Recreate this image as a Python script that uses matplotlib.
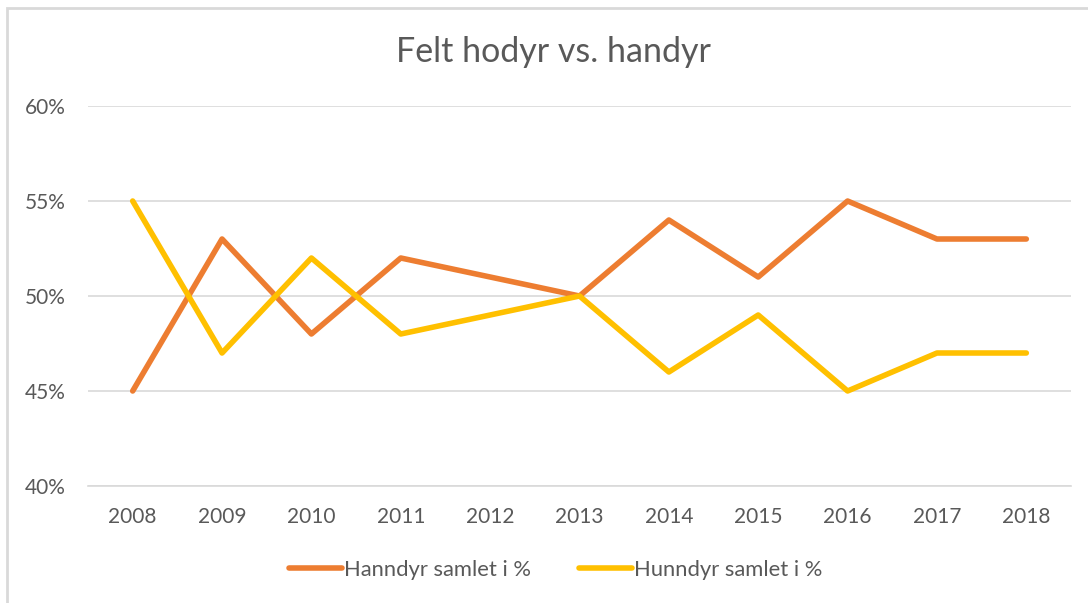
import matplotlib.pyplot as plt
from matplotlib.patches import Rectangle
from matplotlib.ticker import FuncFormatter

years = ['2008', '2009', '2010', '2011', '2012', '2013', '2014', '2015', '2016', '2017', '2018']
hanndyr = [45, 53, 48, 52, 51, 50, 54, 51, 55, 53, 53]
hunndyr = [55, 47, 52, 48, 49, 50, 46, 49, 45, 47, 47]
y_ticks = [40, 45, 50, 55, 60]

W, H = 1088, 603
plt.rcParams['font.family'] = ['Lato', 'DejaVu Sans']
fig = plt.figure(figsize=(W / 100, H / 100), dpi=100)

# chart border (cut off at right and bottom like the screenshot)
fig.patches.append(Rectangle((7 / W, -0.05), 1.1, 1 - 8 / H + 0.05, transform=fig.transFigure,
                             fill=False, edgecolor='#D9D9D9', linewidth=2))

ax = fig.add_axes([88 / W, (H - 486) / H, (1071 - 88) / W, (486 - 106) / H])
x = range(len(years))
ax.plot(x, hanndyr, color='#ED7D31', linewidth=4, label='Hanndyr samlet i %', solid_capstyle='round')
ax.plot(x, hunndyr, color='#FFC000', linewidth=4, label='Hunndyr samlet i %', solid_capstyle='round')

ax.set_xlim(-0.5, len(years) - 0.5)
ax.set_ylim(40, 60)
ax.set_yticks(y_ticks)
ax.yaxis.set_major_formatter(FuncFormatter(lambda v, p: f'{v:.0f}%'))
ax.set_xticks(list(x))
ax.set_xticklabels(years)
ax.grid(axis='y', color='#D9D9D9', linewidth=1.2)
ax.set_axisbelow(True)
for s in ['top', 'right', 'left']:
    ax.spines[s].set_visible(False)
ax.spines['bottom'].set_color('#D9D9D9')
ax.spines['bottom'].set_linewidth(1.2)
ax.tick_params(axis='both', length=0, labelsize=15, colors='#595959')
ax.tick_params(axis='y', pad=16)
ax.tick_params(axis='x', pad=15)

fig.text(553 / W, 1 - 52 / H, 'Felt hodyr vs. handyr', ha='center', va='center',
         fontsize=24.5, color='#595959')

fig.legend(loc='center', bbox_to_anchor=(556 / W, 1 - 570 / H), ncol=2, frameon=False,
           fontsize=15.8, labelcolor='#595959', handlelength=2.4, handletextpad=0.1,
           columnspacing=2.2)

fig.savefig('out.png', dpi=100)
